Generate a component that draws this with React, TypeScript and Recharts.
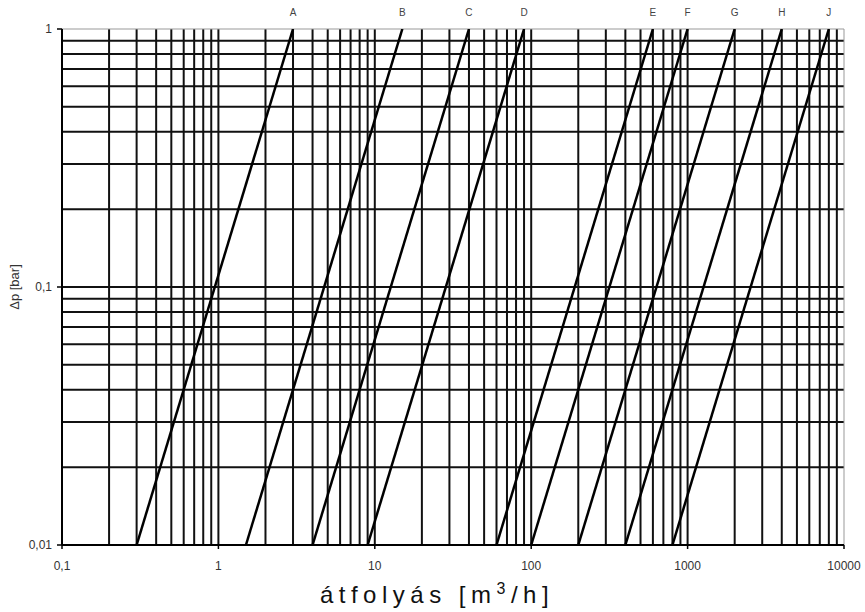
import React from 'react';
import { LineChart, Line, XAxis, YAxis, ReferenceLine } from 'recharts';

// valve curves: flow [m3/h] where each curve crosses dp = 0.01 bar and dp = 1 bar
const curveNames = ['A', 'B', 'C', 'D', 'E', 'F', 'G', 'H', 'J'];
const flowAtLowDp = [0.3, 1.5, 4, 9, 60, 100, 200, 400, 800];
const flowAtHighDp = [3, 15, 40, 90, 600, 1000, 2000, 4000, 8000];
const dpEnds = [0.01, 1];

const xTicks = [0.1, 1, 10, 100, 1000, 10000];
const yTicks = [0.01, 0.1, 1];
const xDecades = [0.1, 1, 10, 100, 1000];
const yDecades = [0.01, 0.1];
const mantissas = [1, 2, 3, 4, 5, 6, 7, 8, 9];

const FONT = '"Liberation Sans", Arial, sans-serif';

const xGrid = xDecades.flatMap((d) => mantissas.map((m) => m * d)).filter((v) => v > 0.1);
const yGrid = yDecades.flatMap((d) => mantissas.map((m) => m * d)).filter((v) => v > 0.01);

const curves = curveNames.map((name, i) => ({
  name,
  data: [
    { q: flowAtLowDp[i], dp: dpEnds[0] },
    { q: flowAtHighDp[i], dp: dpEnds[1] },
  ],
}));

const fmt = (v: number) => String(v).replace('.', ',');

const topLabel = (name: string) => (props: any) => {
  if (props.index !== 1) return <g />;
  return (
    <text x={props.x} y={props.y - 13} textAnchor="middle" fontSize={10} fill="#444" fontFamily={FONT}>
      {name}
    </text>
  );
};

const XTitle = (props: any) => {
  const vb = props.viewBox;
  return (
    <text
      x={vb.x + vb.width / 2 - 16}
      y={vb.y + 58}
      textAnchor="middle"
      fontSize={24}
      letterSpacing={5.5}
      fill="#111"
      fontFamily={FONT}
    >
      átfolyás [m
      <tspan dy={-9} fontSize={16}>3</tspan>
      <tspan dy={9}>/h]</tspan>
    </text>
  );
};

const YTitle = (props: any) => {
  const vb = props.viewBox;
  const cy = vb.y + vb.height / 2;
  return (
    <text
      x={14}
      y={cy}
      transform={`rotate(-90, 14, ${cy})`}
      textAnchor="middle"
      dominantBaseline="central"
      fontSize={13}
      fill="#333"
      fontFamily={FONT}
    >
      Δp [bar]
    </text>
  );
};

const App: React.FC = () => {
  return (
    <div style={{ position: 'absolute', left: 0, top: 0, background: '#fff' }}>
      <LineChart width={865} height={612} margin={{ top: 29, right: 21, bottom: 37, left: 12 }}>
        <XAxis
          dataKey="q"
          type="number"
          scale="log"
          domain={[0.1, 10000]}
          ticks={xTicks}
          allowDataOverflow
          height={30}
          tickSize={4}
          tickMargin={12}
          tickFormatter={fmt}
          tick={{ fontSize: 12, fill: '#333', fontFamily: FONT }}
          tickLine={{ stroke: '#000', strokeWidth: 1.5 }}
          axisLine={{ stroke: '#000', strokeWidth: 2 }}
          label={<XTitle />}
        />
        <YAxis
          dataKey="dp"
          type="number"
          scale="log"
          domain={[0.01, 1]}
          ticks={yTicks}
          allowDataOverflow
          width={50}
          tickSize={5}
          tickMargin={5}
          tickFormatter={fmt}
          tick={{ fontSize: 12, fill: '#333', fontFamily: FONT }}
          tickLine={{ stroke: '#000', strokeWidth: 1.5 }}
          axisLine={{ stroke: '#000', strokeWidth: 2 }}
          label={<YTitle />}
        />
        {xGrid.map((v) => (
          <ReferenceLine key={`vx-${v}`} x={v} stroke="#111" strokeWidth={2} />
        ))}
        {yGrid.map((v) => (
          <ReferenceLine key={`hy-${v}`} y={v} stroke="#111" strokeWidth={2} />
        ))}
        <ReferenceLine y={1} stroke="#999" strokeWidth={1} />
        <ReferenceLine x={10000} stroke="#999" strokeWidth={1} />
        {curves.map((c) => (
          <Line
            key={c.name}
            data={c.data}
            dataKey="dp"
            stroke="#000"
            strokeWidth={2.5}
            dot={false}
            isAnimationActive={false}
            label={topLabel(c.name)}
          />
        ))}
      </LineChart>
    </div>
  );
};

export default App;
